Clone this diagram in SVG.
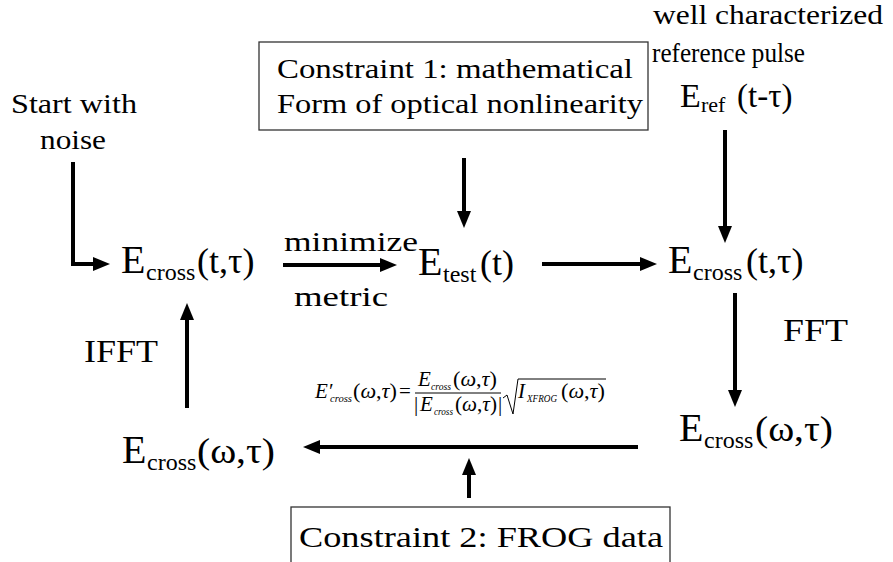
<svg xmlns="http://www.w3.org/2000/svg" width="893" height="562" viewBox="0 0 893 562">
<style>
text{font-family:"Liberation Serif","Times New Roman",serif;fill:#000}
.t27{font-size:27px}
.t28{font-size:28px}
.t30{font-size:30px}
.t32{font-size:32px}
.E{font-size:40px}
.sub{font-size:24px}
.par{font-size:36px}
.f{font-size:21px;font-style:italic}
.fs{font-size:11px;font-style:italic}
.fn{font-size:21px;font-style:normal}
.ln{fill:none;stroke:#000;stroke-width:4}
.box{fill:#fff;stroke:#333;stroke-width:1.3}
.thin{fill:none;stroke:#000;stroke-width:1}
</style>
<defs>
<marker id="ah" markerUnits="userSpaceOnUse" markerWidth="18" markerHeight="14" refX="0" refY="7" orient="auto" viewBox="0 0 18 14">
<path d="M0,0 L17,7 L0,14 z" fill="#000"/>
</marker>
</defs>
<rect width="893" height="562" fill="#fff"/>

<g id="connectors">
<path class="ln" d="M73,162 V264 H93" marker-end="url(#ah)"/>
<path class="ln" d="M283,265 H380" marker-end="url(#ah)"/>
<path class="ln" d="M542,264 H640" marker-end="url(#ah)"/>
<path class="ln" d="M464,158 V211" marker-end="url(#ah)"/>
<path class="ln" d="M725,130 V226" marker-end="url(#ah)"/>
<path class="ln" d="M735,293 V390" marker-end="url(#ah)"/>
<path class="ln" d="M638,447 H320" marker-end="url(#ah)"/>
<path class="ln" d="M469,498 V475" marker-end="url(#ah)"/>
<path class="ln" d="M187,408 V320" marker-end="url(#ah)"/>
</g>

<g id="start">
<text class="t27" x="11" y="113" textLength="126" lengthAdjust="spacingAndGlyphs">Start with</text>
<text class="t27" x="40" y="149" textLength="66" lengthAdjust="spacingAndGlyphs">noise</text>
</g>

<g id="constraint1">
<rect class="box" x="259" y="42" width="389" height="88"/>
<text class="t27" x="277" y="78" textLength="356" lengthAdjust="spacingAndGlyphs">Constraint 1: mathematical</text>
<text class="t27" x="277" y="113" textLength="366" lengthAdjust="spacingAndGlyphs">Form of optical nonlinearity</text>
</g>

<g id="refpulse">
<text class="t27" x="653" y="24" textLength="230" lengthAdjust="spacingAndGlyphs">well characterized</text>
<text class="t27" x="652" y="62" textLength="153" lengthAdjust="spacingAndGlyphs">reference pulse</text>
<text><tspan x="680" y="107" style="font-size:34px">E</tspan><tspan x="701" y="112" style="font-size:22px">ref</tspan><tspan x="737" y="107" style="font-size:33px">(t-τ)</tspan></text>
</g>

<g id="ecross-t-left">
<text><tspan class="E" x="121" y="273">E</tspan><tspan class="sub" x="146" y="280">cross</tspan><tspan class="par" x="197" y="273">(t,τ)</tspan></text>
</g>

<g id="minimize">
<text class="t28" x="284" y="251" textLength="134" lengthAdjust="spacingAndGlyphs">minimize</text>
<text class="t28" x="294" y="306" textLength="94" lengthAdjust="spacingAndGlyphs">metric</text>
</g>

<g id="etest">
<text><tspan class="E" x="418" y="275">E</tspan><tspan class="sub" x="443" y="282">test</tspan><tspan class="par" x="480" y="275">(t)</tspan></text>
</g>

<g id="ecross-t-right">
<text><tspan class="E" x="668" y="273">E</tspan><tspan class="sub" x="693" y="280">cross</tspan><tspan class="par" x="746" y="273">(t,τ)</tspan></text>
</g>

<g id="fft">
<text class="t32" x="783" y="341" textLength="65" lengthAdjust="spacingAndGlyphs">FFT</text>
</g>

<g id="ecross-w-right">
<text><tspan class="E" x="679" y="441">E</tspan><tspan class="sub" x="704" y="448">cross</tspan><tspan class="par" x="755" y="441" textLength="78" lengthAdjust="spacingAndGlyphs">(ω,τ)</tspan></text>
</g>

<g id="ecross-w-left">
<text><tspan class="E" x="122" y="463">E</tspan><tspan class="sub" x="147" y="470">cross</tspan><tspan class="par" x="197" y="463" textLength="78" lengthAdjust="spacingAndGlyphs">(ω,τ)</tspan></text>
</g>

<g id="ifft">
<text class="t32" x="84" y="362" textLength="74" lengthAdjust="spacingAndGlyphs">IFFT</text>
</g>

<g id="formula">
<text class="f" x="315" y="398">E′</text>
<text class="fs" x="330" y="402" textLength="22" lengthAdjust="spacingAndGlyphs">cross</text>
<text class="fn" x="353" y="398" textLength="44" lengthAdjust="spacingAndGlyphs">(<tspan class="f">ω</tspan>,<tspan class="f">τ</tspan>)</text>
<text class="fn" x="399" y="398">=</text>
<text class="f" x="418" y="386">E</text>
<text class="fs" x="431" y="390" textLength="20" lengthAdjust="spacingAndGlyphs">cross</text>
<text class="fn" x="453" y="386" textLength="44" lengthAdjust="spacingAndGlyphs">(<tspan class="f">ω</tspan>,<tspan class="f">τ</tspan>)</text>
<line class="thin" x1="415" y1="393" x2="501" y2="393"/>
<text class="fn" x="414" y="411">|</text>
<text class="f" x="420" y="411">E</text>
<text class="fs" x="434" y="415" textLength="19" lengthAdjust="spacingAndGlyphs">cross</text>
<text class="fn" x="455" y="411" textLength="42" lengthAdjust="spacingAndGlyphs">(<tspan class="f">ω</tspan>,<tspan class="f">τ</tspan>)</text>
<text class="fn" x="498" y="411">|</text>
<path class="thin" d="M503,398 L507,395 L513,414 L518,379 H606"/>
<text class="f" x="518" y="398">I</text>
<text class="fs" x="527" y="402" textLength="30" lengthAdjust="spacingAndGlyphs">XFROG</text>
<text class="fn" x="561" y="398" textLength="44" lengthAdjust="spacingAndGlyphs">(<tspan class="f">ω</tspan>,<tspan class="f">τ</tspan>)</text>
</g>

<g id="constraint2">
<rect class="box" x="291" y="507" width="379" height="70"/>
<text class="t30" x="299" y="547" textLength="364" lengthAdjust="spacingAndGlyphs">Constraint 2: FROG data</text>
</g>
</svg>
